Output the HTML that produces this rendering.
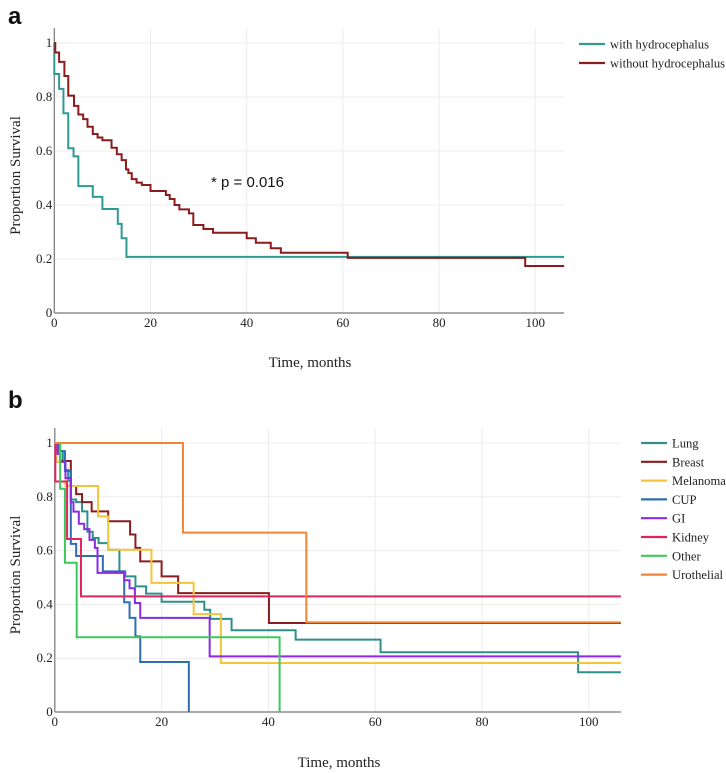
<!DOCTYPE html>
<html><head><meta charset="utf-8">
<style>
body{margin:0;background:#fff;}
svg{display:block;font-family:"Liberation Serif",serif;}
</style></head>
<body>
<svg id="chart" width="726" height="773" viewBox="0 0 726 773" xmlns="http://www.w3.org/2000/svg"></svg>
<script>
// ---------- Panel A data ----------
const aTicksX = [0, 20, 40, 60, 80, 100];
const aTicksY = [0, 0.2, 0.4, 0.6, 0.8, 1];
const aTickLabelsY = ["0", "0.2", "0.4", "0.6", "0.8", "1"];
const aSeriesNames = ["with hydrocephalus", "without hydrocephalus"];
const aWithT = [0, 0, 1, 1.9, 2.9, 4, 5, 8, 10, 13.2, 14, 15];
const aWithV = [1, 0.885, 0.83, 0.74, 0.61, 0.58, 0.47, 0.43, 0.385, 0.33, 0.277, 0.208];
const aWithoutT = [0, 0.2, 1, 2.1, 2.9, 4.1, 5, 6, 6.9, 8, 9, 10, 11.9, 13, 14, 14.9, 15.4, 16.1, 17.1, 18.2, 20, 23.2, 24, 25, 26, 28, 28.9, 31, 33, 40, 41.9, 45, 47.1, 61, 97.9];
const aWithoutV = [1, 0.965, 0.93, 0.878, 0.805, 0.767, 0.735, 0.718, 0.69, 0.663, 0.65, 0.64, 0.612, 0.588, 0.566, 0.532, 0.518, 0.496, 0.483, 0.474, 0.452, 0.437, 0.422, 0.40, 0.384, 0.369, 0.326, 0.311, 0.297, 0.277, 0.26, 0.24, 0.223, 0.204, 0.174];

// ---------- Panel B data ----------
const bTicksX = [0, 20, 40, 60, 80, 100];
const bTicksY = [0, 0.2, 0.4, 0.6, 0.8, 1];
const bSeriesNames = ["Lung", "Breast", "Melanoma", "CUP", "GI", "Kidney", "Other", "Urothelial"];
const lungT = [0, 0.7, 1.5, 2, 2.5, 3, 4, 5.1, 6.1, 7.1, 8.2, 10, 12.1, 13.2, 15.1, 17.1, 20, 28, 29.1, 33.1, 45.1, 61, 98];
const lungV = [1, 0.97, 0.93, 0.90, 0.86, 0.79, 0.78, 0.746, 0.67, 0.647, 0.628, 0.603, 0.523, 0.504, 0.467, 0.44, 0.41, 0.38, 0.346, 0.304, 0.269, 0.222, 0.148];
const breastT = [0, 0.3, 1, 3, 4, 5.1, 6.9, 10, 14.1, 15.1, 16, 20, 23.1, 40.1];
const breastV = [1, 0.96, 0.933, 0.84, 0.81, 0.78, 0.746, 0.709, 0.66, 0.61, 0.56, 0.504, 0.442, 0.331];
const melT = [0, 0.3, 2, 8.1, 10, 18.1, 26, 31.1];
const melV = [1, 0.93, 0.84, 0.727, 0.603, 0.48, 0.364, 0.182];
const cupT = [0, 1, 1.9, 3, 4, 9, 13, 14, 15.1, 16, 25.1];
const cupV = [1, 0.97, 0.896, 0.625, 0.58, 0.523, 0.408, 0.35, 0.281, 0.186, 0];
const giT = [0, 0.5, 1, 2, 3, 3.5, 4.5, 5.5, 6.5, 7.5, 8, 13, 14, 15, 16, 29];
const giV = [1, 0.96, 0.93, 0.87, 0.78, 0.745, 0.70, 0.68, 0.64, 0.61, 0.517, 0.49, 0.46, 0.405, 0.35, 0.207];
const kidT = [0, 0.1, 2.3, 4.9];
const kidV = [1, 0.857, 0.643, 0.43];
const othT = [0, 1, 1.9, 4.1, 42.1];
const othV = [1, 0.83, 0.555, 0.278, 0];
const uroT = [0, 24, 47.1];
const uroV = [1, 0.667, 0.333];

const NS = "http://www.w3.org/2000/svg";
const svg = document.getElementById("chart");
function mk(tag, attrs, parent) {
  const e = document.createElementNS(NS, tag);
  for (const k in attrs) e.setAttribute(k, attrs[k]);
  (parent || svg).appendChild(e);
  return e;
}
function stepPath(ts, vs, xs, ys, tEnd) {
  let d = "M" + xs(ts[0]) + "," + ys(vs[0]);
  for (let i = 1; i < ts.length; i++) {
    d += " H" + xs(ts[i]) + " V" + ys(vs[i]);
  }
  if (vs[vs.length - 1] > 0) d += " H" + xs(tEnd);
  return d;
}

function drawPanel(cfg) {
  const g = mk("g", {});
  
  
  const xs = t => cfg.x0 + t * cfg.kx;
  const ys = v => cfg.y0 - v * cfg.ky;
  const xEnd = xs(cfg.tMax);
  cfg.ticksX.forEach(t => {
    if (t > 0) {
      const l = mk("line", {x1: xs(t), x2: xs(t), y1: cfg.top, y2: cfg.y0, stroke: "#ececec", "stroke-width": 1}, g);
      
      
    }
    const tx = mk("text", {x: xs(t), y: cfg.y0 + 14, "text-anchor": "middle", "font-size": 13, fill: "#222"}, g);
    
    
    tx.textContent = String(t);
  });
  cfg.ticksY.forEach((v, i) => {
    if (v > 0) {
      const l = mk("line", {x1: cfg.x0, x2: xEnd, y1: ys(v), y2: ys(v), stroke: "#ececec", "stroke-width": 1}, g);
      
      
    }
    const ty = mk("text", {x: cfg.x0 - 2, y: ys(v) + 4, "text-anchor": "end", "font-size": 13, fill: "#222"}, g);
    
    
    ty.textContent = aTickLabelsY[i];
  });
  const ax = mk("line", {x1: cfg.x0, x2: cfg.x0, y1: cfg.top, y2: cfg.y0, stroke: "#777", "stroke-width": 1.2}, g);
  
  
  const bx = mk("line", {x1: cfg.x0, x2: xEnd, y1: cfg.y0, y2: cfg.y0, stroke: "#777", "stroke-width": 1.2}, g);
  
  
  cfg.series.forEach((s, i) => {
    const p = mk("path", {d: stepPath(s.t, s.v, xs, ys, cfg.tMax), fill: "none", stroke: s.color, "stroke-width": 2}, g);
    
    
  });
  cfg.series.forEach((s, i) => {
    const ly = cfg.legY + i * cfg.legStep;
    const ll = mk("line", {x1: cfg.legX, x2: cfg.legX + 26, y1: ly, y2: ly, stroke: s.color, "stroke-width": 2.2}, g);
    
    
    const lt = mk("text", {x: cfg.legX + 31, y: ly + 4.5, "font-size": cfg.legFont, fill: "#222"}, g);
    
    
    lt.textContent = s.label;
  });
  const yt = mk("text", {x: 0, y: 0, "font-size": 15, fill: "#222", "text-anchor": "middle", transform: "translate(20," + ((cfg.top + cfg.y0) / 2 + 5) + ") rotate(-90)"}, g);
  
  
  yt.textContent = "Proportion Survival";
  const xt = mk("text", {x: cfg.xTitleX, y: cfg.xTitleY, "font-size": 15, fill: "#222", "text-anchor": "middle"}, g);
  
  
  xt.textContent = "Time, months";
  const pl = mk("text", {x: 8, y: cfg.letterY, "font-size": 24, "font-weight": "bold", "font-family": "Liberation Sans, sans-serif", fill: "#111"}, g);
  
  
  pl.textContent = cfg.letter;
  return {xs, ys, g};
}

drawPanel({
  name: "panel-a", letter: "a", letterY: 24,
  x0: 54.3, kx: 4.81, y0: 313, ky: 270, top: 28, tMax: 106,
  ticksX: aTicksX, ticksY: aTicksY,
  legX: 579, legY: 44, legStep: 19, legFont: 12.6,
  xTitleX: 310, xTitleY: 367,
  series: [
    {key: "with", label: aSeriesNames[0], t: aWithT, v: aWithV, color: "#2f9994"},
    {key: "without", label: aSeriesNames[1], t: aWithoutT, v: aWithoutV, color: "#8b1c1e"}
  ]
});
const pv = mk("text", {x: 211, y: 187, "font-size": 15, "font-family": "Liberation Sans, sans-serif", fill: "#111"});


pv.textContent = "*  p = 0.016";

drawPanel({
  name: "panel-b", letter: "b", letterY: 408,
  x0: 54.8, kx: 5.34, y0: 712, ky: 269, top: 428, tMax: 106,
  ticksX: bTicksX, ticksY: bTicksY,
  legX: 641, legY: 443, legStep: 18.8, legFont: 12.6,
  xTitleX: 339, xTitleY: 767,
  series: [
    {key: "lung", label: bSeriesNames[0], t: lungT, v: lungV, color: "#2f8f8a"},
    {key: "breast", label: bSeriesNames[1], t: breastT, v: breastV, color: "#8b1c1e"},
    {key: "melanoma", label: bSeriesNames[2], t: melT, v: melV, color: "#f5c43a"},
    {key: "cup", label: bSeriesNames[3], t: cupT, v: cupV, color: "#2f6db5"},
    {key: "gi", label: bSeriesNames[4], t: giT, v: giV, color: "#8a2be2"},
    {key: "kidney", label: bSeriesNames[5], t: kidT, v: kidV, color: "#e0245e"},
    {key: "other", label: bSeriesNames[6], t: othT, v: othV, color: "#3fc85c"},
    {key: "urothelial", label: bSeriesNames[7], t: uroT, v: uroV, color: "#f08535"}
  ]
});
</script>
</body></html>
